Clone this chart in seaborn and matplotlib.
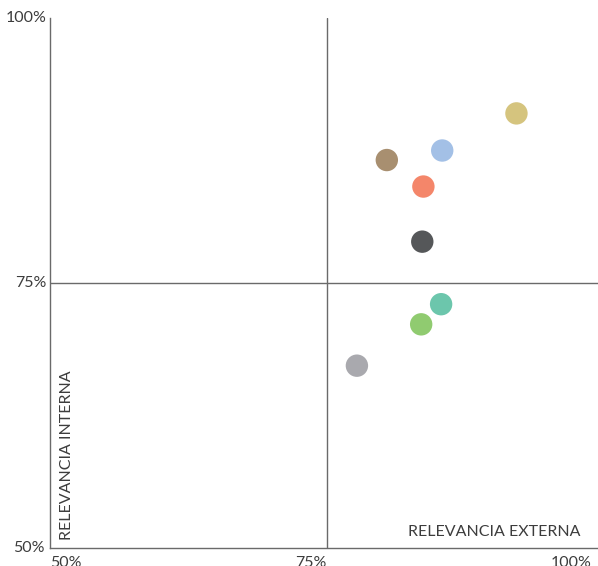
import matplotlib
matplotlib.use("Agg")
import matplotlib.pyplot as plt
import pandas as pd
import seaborn as sns

# (percent)
items = ["A", "B", "C", "D", "E", "F", "G", "H"]
externa = [92.1, 85.4, 80.4, 83.7, 83.6, 85.3, 83.5, 77.7]
interna = [91.0, 87.5, 86.6, 84.1, 78.9, 73.0, 71.1, 67.2]
colores = ["#d5c47e", "#a3c0e6", "#a88f70", "#f4866a",
           "#555759", "#6cc6ac", "#90cb70", "#a9a9ae"]

df = pd.DataFrame({"item": items, "externa": externa, "interna": interna})

sns.set_style("white")
plt.rcParams["font.family"] = ["Lato", "DejaVu Sans"]
txt = "#3c3c3c"
line = "#6a6a6a"

fig = plt.figure(figsize=(5.98, 5.66), dpi=100)
ax = fig.add_axes([50 / 598, 18 / 566, 548 / 598, 530 / 566])

sns.scatterplot(data=df, x="externa", y="interna", hue="item",
                palette=colores, s=260, linewidth=0, legend=False, ax=ax,
                zorder=3)

ax.set_xlim(50, 99.46)
ax.set_ylim(50, 100)
ax.axvline(75, color=line, lw=1, zorder=1)
ax.axhline(75, color=line, lw=1, zorder=1)

for s in ["top", "right"]:
    ax.spines[s].set_visible(False)
for s in ["left", "bottom"]:
    ax.spines[s].set_color(line)
    ax.spines[s].set_linewidth(1)

ax.set_xticks([])
ax.set_yticks([])
ax.set_xlabel("")
ax.set_ylabel("")

fs = 11.5
kw = dict(fontsize=fs, color=txt, fontweight="normal", clip_on=False)
# y tick labels
ax.text(-0.006, 1.0, "100%", transform=ax.transAxes, ha="right", va="center", **kw)
ax.text(-0.006, 0.5, "75%", transform=ax.transAxes, ha="right", va="center", **kw)
ax.text(-0.009, 0.0, "50%", transform=ax.transAxes, ha="right", va="center", **kw)
# x tick labels
ax.text(50, 49.2, "50%", ha="left", va="top", **kw)
ax.text(75, 49.2, "75%", ha="right", va="top", **kw)
ax.text(98.85, 49.2, "100%", ha="right", va="top", **kw)

# axis titles inside the plot
ax.text(17 / 548, 8 / 530, "RELEVANCIA INTERNA", transform=ax.transAxes,
        rotation=90, ha="center", va="bottom", **kw)
ax.text(531 / 548, 16 / 530, "RELEVANCIA EXTERNA", transform=ax.transAxes,
        ha="right", va="center", **kw)

fig.savefig("out.png", dpi=100)
